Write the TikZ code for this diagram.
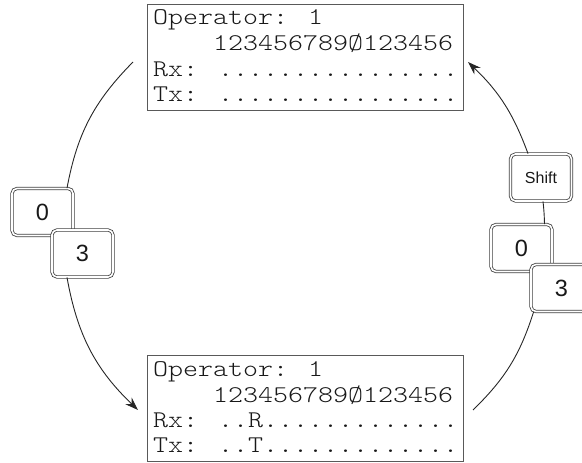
\documentclass[tikz,border=0pt]{standalone}
\usepackage{fontspec}
\usetikzlibrary{arrows.meta}
\newfontfamily\lcdfont[FakeStretch=1.19]{lmmonolt10-regular.otf}
\newfontfamily\keyfont{Liberation Sans}
\begin{document}
\begin{tikzpicture}[x=1pt,y=-1pt,
  lcd/.style={draw=black!65, line width=1pt, minimum width=316pt, minimum height=106pt, inner sep=0pt},
  lcdtxt/.style={anchor=base west, inner sep=0pt, font=\lcdfont\fontsize{24}{26}\selectfont, text=black!90},
  key/.style={draw=black!75, line width=0.8pt, double=white, double distance=1.6pt, rounded corners=5pt, fill=white, minimum width=61pt, minimum height=47pt, inner sep=0pt, font=\keyfont\fontsize{23.5}{25}\selectfont, text=black!90},
  conn/.style={draw=black!85, line width=0.9pt},
  arr/.style={conn, -{Stealth[length=13pt,width=9pt]}}
]
\useasboundingbox (0,0) rectangle (582,463);
% LCD boxes
\node[lcd] (top) at (305,57) {};
\node[lcd] (bot) at (305,408) {};
% top box text
\node[lcdtxt] (t1) at (153,24) {Operator: 1};
\node[lcdtxt] (t2) at (213,50.5) {123456789Ø123456};
\node[lcdtxt] (t3) at (153,76) {Rx: ................};
\node[lcdtxt] (t4) at (153,101) {Tx: ................};
% bottom box text
\node[lcdtxt] (b1) at (153,376) {Operator: 1};
\node[lcdtxt] (b2) at (213,402) {123456789Ø123456};
\node[lcdtxt] (b3) at (153,427) {Rx: ..R.............};
\node[lcdtxt] (b4) at (153,452) {Tx: ..T.............};
% keys
\node[key] (lk0) at (42.5,212) {0};
\node[key] (lk3) at (82.5,253.5) {3};
\node[key, font=\keyfont\fontsize{16}{18}\selectfont] (sh) at (541,177.5) {Shift};
\node[key] (rk0) at (521.5,248) {0};
\node[key] (rk3) at (561.5,288) {3};
% free ends
\coordinate (tl) at (133,62);
\coordinate (bl) at (138,410);
\coordinate (br) at (473,410);
\coordinate (tr) at (468,62);
% connectors
\draw[conn] (tl) to[bend right=17] ([xshift=24.5pt]lk0.north);
\draw[arr] ([xshift=-15.5pt]lk3.south) to[bend right=18] (bl);
\draw[conn] (br) to[bend right=14] ([xshift=3pt]rk3.south west);
\draw[conn] ([xshift=23pt]rk0.north) to[bend right=2.5] ([xshift=2pt]sh.south);
\draw[arr] ([xshift=-13pt]sh.north) to[bend right=13] (tr);
\end{tikzpicture}
\end{document}
